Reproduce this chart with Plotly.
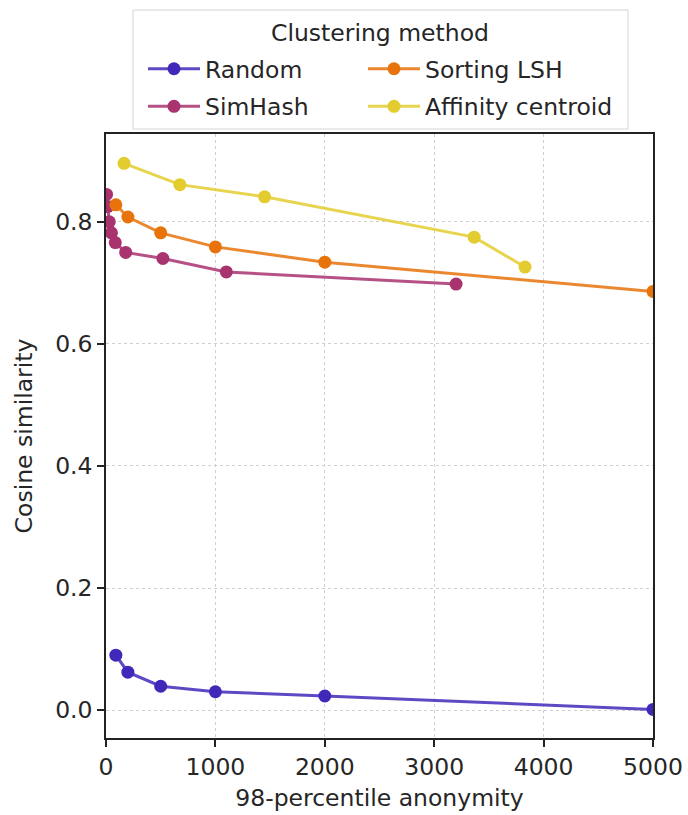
import plotly.graph_objects as go

# 98-percentile anonymity (x) and cosine similarity (y) per clustering method
random_x = [90, 200, 500, 1000, 2000, 5000]
random_y = [0.090, 0.062, 0.039, 0.030, 0.023, 0.001]

simhash_x = [5, 15, 30, 50, 85, 180, 520, 1100, 3200]
simhash_y = [0.845, 0.825, 0.800, 0.782, 0.766, 0.750, 0.740, 0.718, 0.698]

sorting_x = [90, 200, 500, 1000, 2000, 5000]
sorting_y = [0.828, 0.808, 0.782, 0.759, 0.734, 0.686]

affinity_x = [165, 675, 1450, 3365, 3830]
affinity_y = [0.896, 0.861, 0.841, 0.775, 0.726]

series = [
    ("Random", random_x, random_y, "#4228b8", "rgba(66,40,184,0.85)", "legend"),
    ("SimHash", simhash_x, simhash_y, "#a8336f", "rgba(168,51,111,0.85)", "legend"),
    ("Sorting LSH", sorting_x, sorting_y, "#e8730a", "rgba(232,115,10,0.85)", "legend2"),
    ("Affinity centroid", affinity_x, affinity_y, "#e3cc30", "rgba(227,204,48,0.85)", "legend2"),
]

FONT = "DejaVu Sans"
FS = 23.5

fig = go.Figure()
for name, xs, ys, mcol, lcol, leg in series:
    fig.add_trace(go.Scatter(
        x=xs, y=ys, name=name, mode="lines+markers",
        line=dict(color=lcol, width=3),
        marker=dict(color=mcol, size=13),
        legend=leg, legendgroup=name,
    ))

W, H = 688, 815
L, R, T, B = 106, 35, 134, 77
pw, ph = W - L - R, H - T - B


def px_x(p):
    return (p - L) / pw


def px_y(p):
    return (H - B - p) / ph


axis_common = dict(
    showline=True, mirror=True, linecolor="#222", linewidth=1.5,
    ticks="outside", ticklen=7, tickwidth=1.5, tickcolor="#222",
    showgrid=True, gridcolor="#cfcfcf", gridwidth=1, griddash="dot",
    zeroline=False, automargin=False,
    tickfont=dict(family=FONT, size=FS, color="#262626"),
)

fig.update_xaxes(
    range=[0, 5000], tickvals=[0, 1000, 2000, 3000, 4000, 5000],
    title=dict(text="98-percentile anonymity", font=dict(family=FONT, size=FS, color="#262626"), standoff=10),
    **axis_common,
)
fig.update_yaxes(
    range=[-0.0458, 0.944], tickvals=[0, 0.2, 0.4, 0.6, 0.8], tickformat=".1f",
    title=dict(text="Cosine similarity", font=dict(family=FONT, size=FS, color="#262626"), standoff=16),
    **axis_common,
)

legend_common = dict(
    bgcolor="rgba(0,0,0,0)", borderwidth=0,
    font=dict(family=FONT, size=FS, color="#262626"),
    xanchor="left", yanchor="top", tracegroupgap=4,
    itemwidth=52,
)

fig.update_layout(
    width=W, height=H,
    margin=dict(l=L, r=R, t=T, b=B),
    paper_bgcolor="white", plot_bgcolor="white",
    showlegend=True,
    legend=dict(x=px_x(143), y=px_y(47), **legend_common),
    legend2=dict(x=px_x(363), y=px_y(47), **legend_common),
    shapes=[dict(
        type="rect", xref="paper", yref="paper",
        x0=px_x(133), x1=px_x(628), y0=px_y(129), y1=px_y(10),
        line=dict(color="#d4d4d4", width=1), fillcolor="rgba(255,255,255,0.8)",
        layer="above",
    )],
    annotations=[dict(
        text="Clustering method", xref="paper", yref="paper",
        x=px_x(380), y=px_y(33), xanchor="center", yanchor="middle",
        showarrow=False, font=dict(family=FONT, size=FS, color="#262626"),
    )],
)

fig.write_html("out.html")
